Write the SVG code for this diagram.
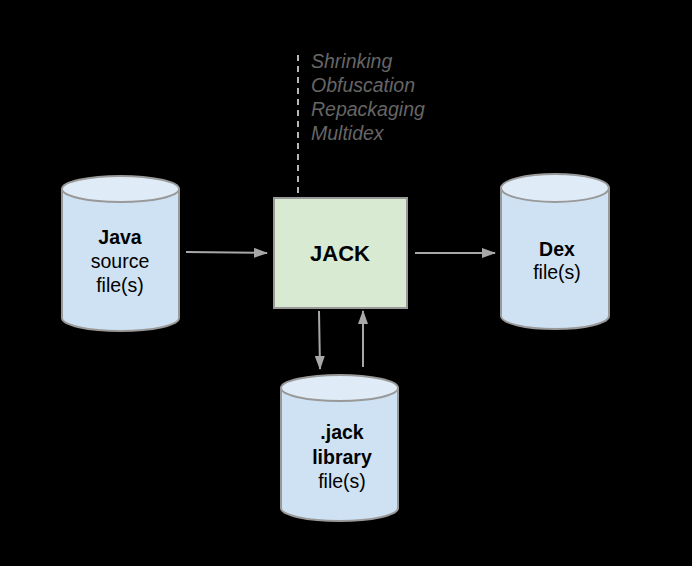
<svg xmlns="http://www.w3.org/2000/svg" width="692" height="566" viewBox="0 0 692 566">
<defs>
<style>
.cyl{fill:#cfe2f3;stroke:#999;stroke-width:2}
.cyltop{fill:#dfebf7;stroke:#999;stroke-width:2}
.t{font-family:"Liberation Sans",Arial,sans-serif;font-size:19.5px;fill:#000;text-anchor:middle}
.b{font-weight:bold}
.it{font-family:"Liberation Sans",Arial,sans-serif;font-size:19.5px;font-style:italic;fill:#666}
.arr{stroke:#a8a8a8;stroke-width:2;fill:none;marker-end:url(#ah)}
</style>
<marker id="ah" viewBox="0 0 14 10" refX="13" refY="5" markerWidth="7" markerHeight="5" orient="auto" markerUnits="strokeWidth">
<path d="M0,0 L14,5 L0,10 z" fill="#a8a8a8"/>
</marker>
</defs>
<rect width="692" height="566" fill="#000"/>
<g id="connectors">
<line x1="298" y1="55" x2="298" y2="212" stroke="#b7b7b7" stroke-width="2" stroke-dasharray="6,5"/>
<line class="arr" x1="186" y1="252" x2="267" y2="253"/>
<line class="arr" x1="415" y1="253" x2="495" y2="253"/>
<line class="arr" x1="319" y1="311" x2="320" y2="369"/>
<line class="arr" x1="363" y1="367" x2="363" y2="311"/>
</g>
<g id="notes">
<text class="it" x="311" y="68">Shrinking</text>
<text class="it" x="311" y="92">Obfuscation</text>
<text class="it" x="311" y="116">Repackaging</text>
<text class="it" x="311" y="140">Multidex</text>
</g>
<g id="java">
<path class="cyl" d="M62,189 L62,318 A58.5,13 0 0 0 179,318 L179,189 Z"/>
<ellipse class="cyltop" cx="120.5" cy="189" rx="58.5" ry="13"/>
<text class="t b" x="120" y="244">Java</text>
<text class="t" x="120" y="268">source</text>
<text class="t" x="120" y="292">file(s)</text>
</g>
<g id="jack">
<rect x="274" y="198" width="133" height="110" fill="#d9ead3" stroke="#999" stroke-width="2"/>
<text class="t b" x="340" y="261" style="font-size:22px">JACK</text>
</g>
<g id="dex">
<path class="cyl" d="M501,188 L501,316 A54,13 0 0 0 609,316 L609,188 Z"/>
<ellipse class="cyltop" cx="555" cy="188" rx="54" ry="14"/>
<text class="t b" x="557" y="256">Dex</text>
<text class="t" x="557" y="279">file(s)</text>
</g>
<g id="jacklib">
<path class="cyl" d="M281,388 L281,508 A58.5,13 0 0 0 398,508 L398,388 Z"/>
<ellipse class="cyltop" cx="339.5" cy="388" rx="58.5" ry="13"/>
<text class="t b" x="342" y="439">.jack</text>
<text class="t b" x="342" y="464">library</text>
<text class="t" x="342" y="488">file(s)</text>
</g>
</svg>
